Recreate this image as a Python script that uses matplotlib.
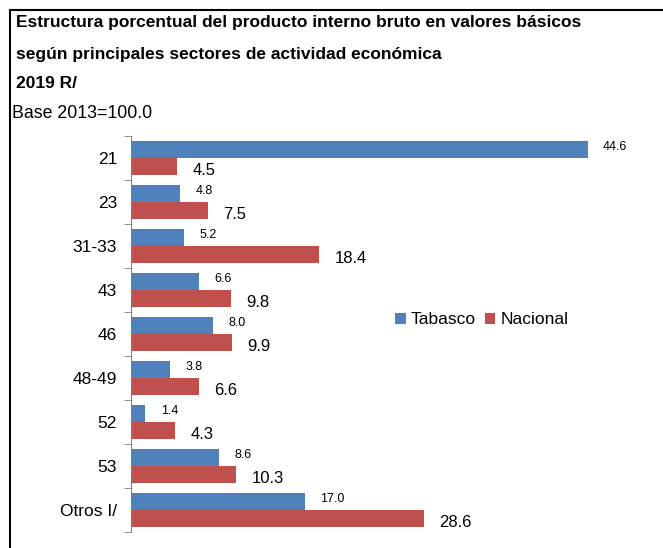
import numpy as np
from matplotlib import pyplot as plt
from matplotlib.lines import Line2D

categorias = ["21", "23", "31-33", "43", "46", "48-49", "52", "53", "Otros I/"]
tabasco = [44.6, 4.8, 5.2, 6.6, 8.0, 3.8, 1.4, 8.6, 17.0]
nacional = [4.5, 7.5, 18.4, 9.8, 9.9, 6.6, 4.3, 10.3, 28.6]

azul = "#4F81BD"
rojo = "#C0504D"

plt.rcParams['font.family'] = ['Liberation Sans', 'DejaVu Sans']

fig = plt.figure(figsize=(6.63, 5.48), dpi=100)
ax = fig.add_axes([131/663, 1-532/548, 512/663, 396/548])

y = np.arange(len(categorias))
h = 0.39
ax.barh(y - h/2, tabasco, height=h, color=azul, label="Tabasco")
ax.barh(y + h/2, nacional, height=h, color=rojo, label="Nacional")

for i in range(len(categorias)):
	ax.text(tabasco[i] + 1.5, y[i] - h/2 - 0.06, "%.1f" % tabasco[i], fontsize=9, va="center", ha="left")
	ax.text(nacional[i] + 1.5, y[i] + h/2 + 0.1, "%.1f" % nacional[i], fontsize=12, va="center", ha="left")

ax.set_xlim(0, 50)
ax.set_ylim(len(categorias) - 0.5, -0.5)
ax.set_yticks(y)
ax.set_yticklabels(categorias, fontsize=12.5)
ax.set_yticks(np.arange(len(categorias) + 1) - 0.5, minor=True)
ax.tick_params(axis="y", which="major", length=0, pad=10)
ax.tick_params(axis="y", which="minor", length=5, color="#808080")
ax.set_xticks([])
for s in ["top", "right", "bottom"]:
	ax.spines[s].set_visible(False)
ax.spines["left"].set_color("#808080")

ax.legend(loc="center", bbox_to_anchor=(482/663, 1-320/548), bbox_transform=fig.transFigure,
	ncol=2, frameon=False, fontsize=12.5, handlelength=0.6, handleheight=0.6,
	handletextpad=0.3, columnspacing=0.5)

fig.text(16/663, 1-23/548, "Estructura porcentual del producto interno bruto en valores básicos", fontsize=12.5, fontweight="bold", va="center")
fig.text(16/663, 1-55/548, "según principales sectores de actividad económica", fontsize=12.5, fontweight="bold", va="center")
fig.text(16/663, 1-84/548, "2019 R/", fontsize=12.5, fontweight="bold", va="center")
fig.text(12/663, 1-113/548, "Base 2013=100.0", fontsize=12.8, va="center")

fig.add_artist(Line2D([10/663, 1], [1-10/548, 1-10/548], color="black", lw=1.5))
fig.add_artist(Line2D([10/663, 10/663], [1-10/548, 0], color="black", lw=1.5))

fig.savefig("out.png", dpi=100)
